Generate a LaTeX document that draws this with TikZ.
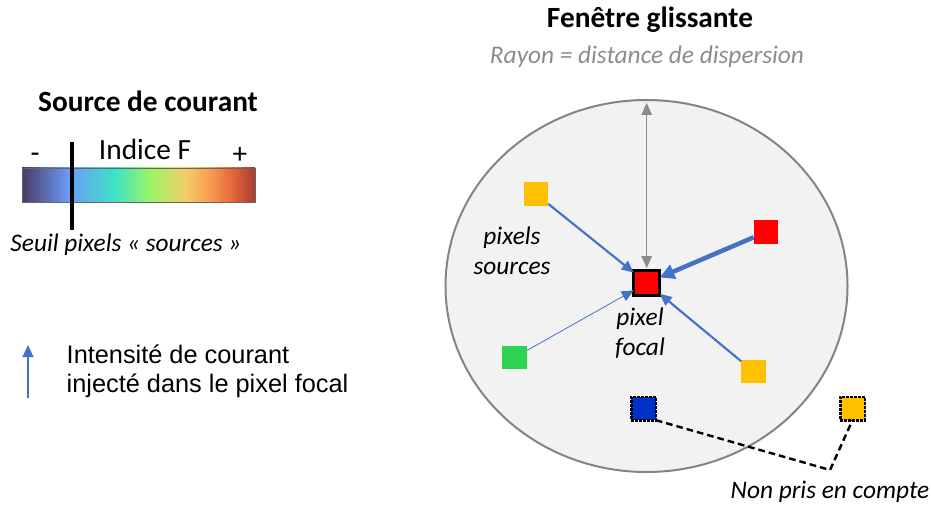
\documentclass[tikz,border=0pt]{standalone}
\usepackage{fontspec}
\setmainfont{Carlito}
\newfontfamily\arialfont{Liberation Sans}
\usetikzlibrary{arrows.meta,positioning}
\definecolor{flux}{HTML}{4472C4}
\definecolor{fond}{HTML}{F2F2F2}
\definecolor{bord}{HTML}{848484}
\definecolor{jaune}{HTML}{FFC000}
\definecolor{rouge}{HTML}{FF0000}
\definecolor{vert}{HTML}{2ED150}
\definecolor{bleu}{HTML}{0033CC}
\definecolor{gris}{HTML}{8C8C8C}
% couleurs de la barre
\definecolor{c0}{HTML}{4B3A66}
\definecolor{c1}{HTML}{6A9CF8}
\definecolor{c2}{HTML}{3EE3C4}
\definecolor{c3}{HTML}{9AF566}
\definecolor{c4}{HTML}{F4CE68}
\definecolor{c5}{HTML}{F8A052}
\definecolor{c6}{HTML}{E6673A}
\definecolor{c7}{HTML}{A83A30}

\begin{document}
\begin{tikzpicture}[x=0.75pt,y=-0.75pt,
    titre/.style={font=\bfseries\fontsize{22}{26}\selectfont},
    etiq/.style={font=\itshape\fontsize{19}{22.5}\selectfont,align=center},
    pix/.style={minimum width=18.5pt,minimum height=17.5pt,inner sep=0pt,outer sep=0pt},
    exclu/.style={pix,draw=black,densely dotted,line width=2pt},
    fleche/.style={flux,line width=1.6pt,-{Triangle[length=9pt,width=8pt]}}]
    \useasboundingbox (0,0) rectangle (931,506);

    % source de courant
    \node[titre] (tsource) at (148,101) {Source de courant};
    \foreach \xa/\xb/\ca/\cb in {22/69/c0/c1,69/115/c1/c2,115/150/c2/c3,150/185/c3/c4,
                                  185/208/c4/c5,208/232/c5/c6,232/255/c6/c7}
        \shade[left color=\ca,right color=\cb] (\xa,168) rectangle (\xb,202);
    \draw[gray!80!black,line width=0.6pt] (22,168) rectangle (255,202);
    \coordinate (seuilh) at (72,142);
    \coordinate (seuilb) at (72,230);
    \draw[line width=2.8pt] (seuilh) -- (seuilb);
    \node[font=\fontsize{22}{26}\selectfont] (moins) at (35,158) {-};
    \node[font=\fontsize{22}{26}\selectfont] (plus) at (240,155) {+};
    \node[font=\fontsize{22}{26}\selectfont] (indice) at (145,149) {Indice F};
    \node[etiq] (seuil) at (126,245) {Seuil pixels «~sources~»};

    % legende
    \coordinate (lbas) at (28,398);
    \coordinate (lhaut) at (28,345);
    \draw[flux,line width=1.6pt,-{Triangle[length=9pt,width=8pt]}] (lbas) -- (lhaut);
    \node[font=\arialfont\fontsize{19}{22}\selectfont,align=left,anchor=west] (legende) at (62,371)
        {Intensité de courant\\injecté dans le pixel focal};

    % fenetre glissante
    \node[titre] (tfenetre) at (650,20) {Fenêtre glissante};
    \node[etiq,gris] (rayon) at (647,57) {Rayon = distance de dispersion};
    \draw[bord,fill=fond,line width=1.5pt] (646.5,286) ellipse [x radius=201,y radius=186];

    \node[pix,fill=rouge,draw=black,line width=2.6pt,minimum width=19.5pt,minimum height=18.5pt] (focal) at (646.7,283) {};
    \node[pix,fill=jaune] (s1) at (536,194) {};
    \node[pix,fill=rouge] (s2) at (766,232) {};
    \node[pix,fill=vert] (s3) at (514.5,357.5) {};
    \node[pix,fill=jaune] (s4) at (753.5,371.5) {};
    \node[exclu,fill=bleu] (e1) at (643.5,408.5) {};
    \node[exclu,fill=jaune] (e2) at (852.5,408.5) {};

    % rayon
    \coordinate (haut) at (646.7,103);
    \draw[gris,line width=0.8pt,{Triangle[length=9pt,width=8pt]}-{Triangle[length=9pt,width=8pt]}]
        (haut) -- ([yshift=2pt]focal.north);

    % courant injecte
    \draw[fleche] (s1) -- (focal);
    \draw[fleche,line width=3.4pt,-{Triangle[length=11pt,width=11pt]}] (s2) -- (focal);
    \draw[fleche,line width=0.6pt,-{Triangle[length=9pt,width=8pt]}] (s3) -- (focal);
    \draw[fleche] (s4) -- (focal);

    \node[etiq] (tsources) at (512,251) {pixels\\sources};
    \node[etiq] (tfocal) at (640,333) {pixel\\focal};

    % non pris en compte
    \coordinate (coude) at (830,470);
    \draw[line width=1.8pt,dash pattern=on 5pt off 3pt] (e1.south east) -- (coude) -- (e2.south);
    \node[etiq] (tnon) at (830,492) {Non pris en compte};
\end{tikzpicture}
\end{document}
